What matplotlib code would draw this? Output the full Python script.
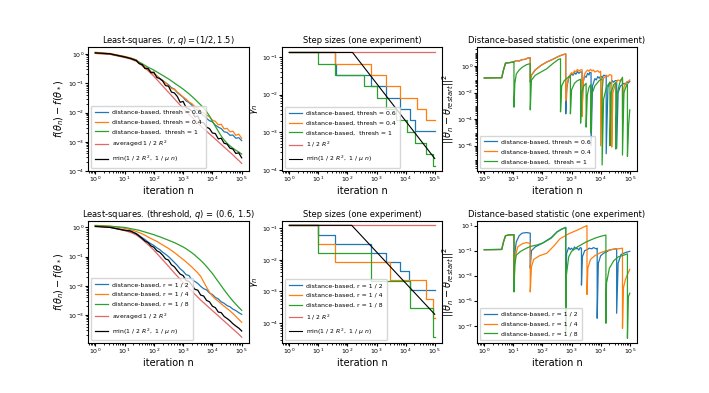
import numpy as np
import matplotlib.pyplot as plt

# ---------------- data ----------------
# left panels: values stored as log10, on a common log10(n) grid
grid_logn = [0.0, 0.5, 1.0, 1.2, 1.4, 1.5, 1.6, 1.7, 1.8, 1.9, 2.0, 2.1, 2.2, 2.3,
             2.4, 2.5, 2.6, 2.7, 2.8, 2.9, 3.0, 3.1, 3.2, 3.3, 3.4, 3.5, 3.6, 3.7,
             3.8, 3.9, 4.0, 4.1, 4.2, 4.3, 4.4, 4.5, 4.6, 4.7, 4.8, 4.9, 5.0]

top_ls_blue = [0.05, 0.0, -0.1, -0.14, -0.2, -0.3, -0.37, -0.46, -0.52, -0.6,
               -0.66, -0.75, -0.83, -0.9, -0.98, -1.05, -1.15, -1.2, -1.32, -1.4,
               -1.48, -1.6, -1.66, -1.75, -1.88, -1.92, -2.03, -2.1, -2.2, -2.28,
               -2.32, -2.43, -2.5, -2.55, -2.66, -2.68, -2.78, -2.77, -2.88, -2.86, -2.96]
top_ls_orange = [0.06, 0.02, -0.08, -0.13, -0.21, -0.28, -0.36, -0.44, -0.53, -0.6,
                 -0.68, -0.74, -0.84, -0.92, -0.98, -1.08, -1.18, -1.2, -1.3, -1.38,
                 -1.47, -1.54, -1.64, -1.7, -1.8, -1.84, -1.96, -2.0, -2.1, -2.14,
                 -2.26, -2.3, -2.42, -2.4, -2.56, -2.54, -2.66, -2.64, -2.78, -2.74, -2.88]
top_ls_green = [0.03, 0.0, -0.09, -0.15, -0.23, -0.28, -0.33, -0.39, -0.45, -0.5,
                -0.55, -0.61, -0.67, -0.73, -0.79, -0.85, -0.92, -0.99, -1.06, -1.13,
                -1.2, -1.28, -1.36, -1.45, -1.54, -1.64, -1.74, -1.85, -1.97, -2.12,
                -2.3, -2.47, -2.64, -2.8, -2.94, -3.05, -3.14, -3.22, -3.29, -3.35, -3.42]
top_ls_red = [0.02, -0.01, -0.12, -0.17, -0.25, -0.32, -0.4, -0.48, -0.57, -0.66,
              -0.76, -0.87, -0.98, -1.09, -1.2, -1.31, -1.42, -1.53, -1.64, -1.75,
              -1.86, -1.96, -2.06, -2.16, -2.26, -2.36, -2.46, -2.55, -2.64, -2.73,
              -2.82, -2.91, -3.0, -3.09, -3.18, -3.27, -3.36, -3.45, -3.55, -3.64, -3.74]
top_ls_black = [0.04, 0.01, -0.1, -0.15, -0.22, -0.33, -0.36, -0.5, -0.49, -0.64,
                -0.62, -0.8, -0.84, -0.92, -1.08, -1.1, -1.3, -1.33, -1.45, -1.65,
                -1.62, -1.83, -1.88, -1.95, -2.15, -2.12, -2.33, -2.35, -2.5, -2.55,
                -2.7, -2.72, -2.9, -2.88, -3.05, -3.08, -3.22, -3.25, -3.4, -3.38, -3.55]

bot_ls_blue = [0.05, 0.01, -0.09, -0.14, -0.21, -0.28, -0.35, -0.42, -0.5, -0.56,
               -0.62, -0.7, -0.76, -0.85, -0.92, -1.0, -1.1, -1.2, -1.3, -1.42,
               -1.5, -1.62, -1.65, -1.8, -1.85, -1.92, -2.02, -2.1, -2.14, -2.25,
               -2.3, -2.4, -2.45, -2.55, -2.6, -2.68, -2.72, -2.8, -2.85, -2.92, -2.98]
bot_ls_orange = [0.07, 0.04, -0.03, -0.08, -0.14, -0.18, -0.22, -0.27, -0.33, -0.38,
                 -0.43, -0.48, -0.54, -0.6, -0.66, -0.72, -0.79, -0.86, -0.94, -1.02,
                 -1.1, -1.18, -1.27, -1.36, -1.46, -1.56, -1.68, -1.86, -2.05, -2.22,
                 -2.35, -2.45, -2.53, -2.62, -2.7, -2.78, -2.86, -2.95, -3.05, -3.15, -3.25]
bot_ls_green = [0.06, 0.04, 0.0, -0.04, -0.08, -0.1, -0.13, -0.16, -0.19, -0.22,
                -0.25, -0.29, -0.32, -0.36, -0.4, -0.44, -0.48, -0.52, -0.57, -0.62,
                -0.67, -0.73, -0.8, -0.87, -0.95, -1.04, -1.13, -1.23, -1.34, -1.46,
                -1.58, -1.72, -1.86, -2.0, -2.14, -2.27, -2.4, -2.52, -2.63, -2.74, -2.84]
bot_ls_red = [0.04, 0.0, -0.11, -0.17, -0.26, -0.33, -0.41, -0.5, -0.59, -0.68,
              -0.78, -0.89, -1.0, -1.11, -1.22, -1.33, -1.45, -1.56, -1.67, -1.78,
              -1.89, -1.99, -2.09, -2.19, -2.29, -2.39, -2.49, -2.58, -2.67, -2.76,
              -2.85, -2.94, -3.03, -3.12, -3.21, -3.3, -3.39, -3.48, -3.57, -3.66, -3.76]
bot_ls_black = [0.03, 0.0, -0.1, -0.12, -0.22, -0.3, -0.38, -0.47, -0.52, -0.63,
                -0.68, -0.8, -0.85, -0.95, -1.08, -1.12, -1.28, -1.35, -1.48, -1.6,
                -1.65, -1.82, -1.85, -1.98, -2.12, -2.15, -2.32, -2.35, -2.5, -2.55,
                -2.7, -2.75, -2.9, -2.92, -3.05, -3.12, -3.2, -3.3, -3.38, -3.45, -3.55]

# middle panels: step sizes (piecewise constant)
top_step_blue_n = [1, 38, 40, 630, 2200, 6600, 14500, 21000, 1e5]
top_step_blue_g = [0.133, 0.066, 0.033, 0.0166, 0.0083, 0.0042, 0.0021, 0.00105, 0.00105]
top_step_orange_n = [1, 38, 660, 2200, 6600, 24000, 52000, 1e5]
top_step_orange_g = [0.133, 0.066, 0.033, 0.0166, 0.0083, 0.0042, 0.0021, 0.0021]
top_step_green_n = [1, 10, 37, 380, 1070, 2200, 4500, 11000, 21000, 52000, 89000, 1e5]
top_step_green_g = [0.133, 0.066, 0.033, 0.0166, 0.0083, 0.0042, 0.0021, 0.00104,
                    0.00052, 0.00026, 0.00013, 0.00013]
top_step_red_n, top_step_red_g = [1, 1e5], [0.133, 0.133]
top_step_black_n, top_step_black_g = [1, 150, 1e5], [0.133, 0.133, 2.0e-4]

bot_step_blue_n = [1, 10, 37, 630, 2200, 6600, 12600, 14500, 1e5]
bot_step_blue_g = [0.13, 0.063, 0.032, 0.0166, 0.0087, 0.0044, 0.0022, 0.0011, 0.0011]
bot_step_orange_n = [1, 10, 37, 3000, 52000, 85000, 1e5]
bot_step_orange_g = [0.13, 0.032, 0.0085, 0.0023, 0.00056, 0.00015, 0.00015]
bot_step_green_n = [1, 10, 630, 14500, 89000, 1e5]
bot_step_green_g = [0.13, 0.0166, 0.0022, 0.00031, 3.6e-5, 3.6e-5]
bot_step_red_n, bot_step_red_g = [1, 1e5], [0.124, 0.124]
bot_step_black_n, bot_step_black_g = [1, 140, 1e5], [0.124, 0.124, 1.9e-4]

# right panels: (log10 n, log10 statistic) pairs
top_dist_blue = [(0, -0.9), (0.6, -0.88), (0.66, -0.3), (0.73, 0.22), (0.85, 0.25), (1.0, 0.3),
                 (1.1, 0.4), (1.2, 0.38), (1.3, 0.48), (1.4, 0.5), (1.5, 0.6), (1.58, 0.62),
                 (1.58, -1.2), (1.62, -0.7), (1.75, -0.3), (1.95, 0.05), (2.15, 0.3), (2.35, 0.5),
                 (2.55, 0.72), (2.7, 0.85), (2.8, 0.9), (2.8, -3.6), (2.84, -1.6), (2.9, -0.9),
                 (3.0, -0.6), (3.05, -0.7), (3.1, -0.5), (3.15, -0.62), (3.2, -0.42), (3.25, -0.55),
                 (3.3, -0.45), (3.36, -0.45), (3.36, -3.3),
                 (3.4, -1.2), (3.45, -0.75), (3.5, -0.85), (3.55, -0.55), (3.6, -0.68), (3.62, -0.5),
                 (3.67, -0.5), (3.67, -6.0),
                 (3.72, -1.5), (3.8, -0.95), (3.85, -1.05), (3.9, -0.8), (3.95, -0.92), (4.0, -0.75),
                 (4.05, -0.88), (4.1, -0.7), (4.19, -0.72),
                 (4.19, -6.6), (4.25, -1.6), (4.32, -1.25), (4.36, -1.35), (4.4, -1.1), (4.45, -1.22),
                 (4.5, -1.1), (4.55, -1.1),
                 (4.55, -6.2), (4.6, -2.0), (4.68, -1.5), (4.75, -1.4), (4.8, -1.3), (4.85, -1.38),
                 (4.9, -1.2), (4.95, -1.28), (5.0, -1.15)]
top_dist_orange = [(0, -0.9), (0.6, -0.88), (0.66, -0.3), (0.73, 0.22), (0.85, 0.25), (1.0, 0.3),
                   (1.1, 0.4), (1.2, 0.38), (1.3, 0.48), (1.4, 0.5), (1.5, 0.6), (1.58, 0.62),
                   (1.58, -1.2), (1.62, -0.7), (1.75, -0.3), (1.95, 0.05), (2.15, 0.3), (2.35, 0.5),
                   (2.55, 0.72), (2.7, 0.85), (2.8, 0.92), (2.8, -2.6), (2.84, -1.5), (2.9, -0.8),
                   (3.0, -0.5), (3.05, -0.6), (3.1, -0.35), (3.15, -0.45), (3.2, -0.25), (3.25, -0.38),
                   (3.3, -0.3), (3.36, -0.28), (3.36, -3.8),
                   (3.4, -1.2), (3.45, -0.6), (3.5, -0.42), (3.55, -0.3), (3.6, -0.4), (3.65, -0.25),
                   (3.7, -0.38), (3.75, -0.3), (3.8, -0.45), (3.9, -0.35), (3.95, -0.48),
                   (4.0, -0.4), (4.0, -6.0), (4.05, -1.8), (4.1, -0.9), (4.15, -0.82), (4.2, -0.7),
                   (4.25, -0.8), (4.3, -0.65), (4.38, -0.7), (4.38, -6.1), (4.42, -2.0), (4.5, -1.4),
                   (4.55, -1.15), (4.6, -1.05), (4.65, -1.12), (4.7, -1.0),
                   (4.75, -1.0), (4.75, -4.0), (4.8, -1.6), (4.85, -1.35), (4.9, -1.2), (4.95, -1.15),
                   (5.0, -1.05)]
top_dist_green = [(0, -0.9), (0.6, -0.88), (0.66, -0.3), (0.73, 0.22), (0.85, 0.25), (1.0, 0.3),
                  (1.02, 0.33), (1.02, -3.1), (1.05, -1.3), (1.1, -0.6), (1.2, -0.3), (1.3, -0.1),
                  (1.45, 0.1), (1.58, 0.18), (1.58, -3.3), (1.62, -1.07), (1.75, -0.7), (1.95, -0.45),
                  (2.15, -0.2), (2.35, 0.17), (2.55, 0.5), (2.62, 0.55), (2.62, -3.45), (2.66, -1.5),
                  (2.75, -1.1), (2.85, -0.9), (2.96, -0.75), (2.96, -3.6), (3.0, -1.8), (3.1, -1.3),
                  (3.2, -1.1), (3.31, -1.0), (3.31, -4.3), (3.35, -2.0), (3.42, -1.5), (3.5, -1.3),
                  (3.5, -4.6), (3.54, -2.2), (3.6, -1.6), (3.66, -1.4), (3.66, -5.0), (3.7, -2.1),
                  (3.8, -1.5), (3.95, -1.1), (4.05, -0.95), (4.05, -7.45), (4.1, -2.5), (4.2, -1.6),
                  (4.32, -1.2), (4.32, -6.0), (4.36, -2.0), (4.45, -1.4), (4.52, -1.25), (4.52, -6.25),
                  (4.56, -2.2), (4.65, -1.3), (4.75, -0.85), (4.75, -6.7), (4.8, -2.0), (4.88, -1.5),
                  (4.92, -1.35), (4.92, -6.8), (4.96, -4.5), (5.0, -3.3)]

bot_dist_blue = [(0, -0.92), (0.6, -0.9), (0.66, -0.3), (0.73, 0.2), (0.85, 0.26), (1.0, 0.28),
                 (1.02, 0.28), (1.02, -2.95), (1.06, -1.0), (1.1, -0.3), (1.2, 0.2), (1.3, 0.4),
                 (1.45, 0.45), (1.58, 0.4), (1.58, -2.4), (1.62, -1.0), (1.75, -0.7), (2.0, -0.4),
                 (2.3, 0.05), (2.5, 0.5), (2.65, 0.72), (2.8, 0.87), (2.8, -3.5), (2.83, -1.2),
                 (2.9, -0.75), (2.95, -0.9), (3.0, -0.8), (3.05, -0.95), (3.1, -0.7), (3.15, -0.85),
                 (3.2, -0.8), (3.25, -0.95), (3.3, -0.75), (3.34, -0.8), (3.34, -3.75), (3.37, -1.5),
                 (3.45, -1.0), (3.55, -0.9), (3.6, -0.8), (3.7, -0.85), (3.75, -0.75), (3.85, -0.85),
                 (3.88, -0.8), (3.88, -6.4), (3.92, -2.0), (4.0, -1.4), (4.1, -1.2), (4.2, -1.1),
                 (4.3, -0.95), (4.4, -0.9), (4.52, -0.85), (4.55, -0.85), (4.55, -6.0), (4.6, -2.0),
                 (4.7, -1.3), (4.85, -1.15), (5.0, -1.05)]
bot_dist_orange = [(0, -0.92), (0.6, -0.9), (0.66, -0.3), (0.73, 0.2), (0.85, 0.26), (1.0, 0.28),
                   (1.02, 0.28), (1.02, -3.75), (1.06, -1.5), (1.15, -0.7), (1.3, -0.45), (1.45, -0.35),
                   (1.55, -0.4), (1.58, -0.4), (1.58, -4.3), (1.62, -2.3), (1.7, -1.7), (1.9, -1.4),
                   (2.15, -1.2), (2.4, -0.6), (2.6, -0.05), (2.9, 0.35), (3.2, 0.65), (3.5, 0.98),
                   (3.53, 1.0), (3.53, -4.5), (3.56, -2.4), (3.65, -1.7), (3.8, -1.4), (4.0, -1.15),
                   (4.2, -1.0), (4.4, -0.9), (4.6, -0.85), (4.75, -0.8), (4.75, -7.2), (4.78, -4.0),
                   (4.85, -3.3), (4.92, -2.9), (5.0, -2.5)]
bot_dist_green = [(0, -0.92), (0.6, -0.9), (0.66, -0.3), (0.73, 0.2), (0.85, 0.26), (1.0, 0.28),
                  (1.02, 0.28), (1.02, -4.3), (1.05, -2.1), (1.1, -1.35), (1.25, -1.05), (1.45, -0.8),
                  (1.6, -0.65), (1.8, -0.55), (2.0, -0.4), (2.3, 0.0), (2.5, 0.5), (2.65, 0.7),
                  (2.8, 0.85), (2.8, -7.5), (2.82, -3.0), (2.9, -1.5), (3.0, -1.05), (3.2, -0.7),
                  (3.5, -0.3), (3.8, 0.0), (4.0, 0.15), (4.18, 0.25), (4.18, -6.8), (4.2, -3.6),
                  (4.3, -2.4), (4.45, -1.8), (4.6, -1.5), (4.8, -1.35), (4.92, -1.25), (4.92, -8.0),
                  (4.95, -4.7), (5.0, -4.4)]

top_labels = ['distance-based, thresh = 0.6', 'distance-based, thresh = 0.4',
              'distance-based,  thresh = 1']
bot_labels = ['distance-based, r = 1 / 2', 'distance-based, r = 1 / 4',
              'distance-based, r = 1 / 8']
colors = ['tab:blue', 'tab:orange', 'tab:green']

FS_TITLE, FS_LABEL, FS_TICK, FS_LEG = 6, 7, 4.5, 4.4
LW = 0.9
LEG = dict(loc='lower left', fontsize=FS_LEG, handlelength=2.1, borderpad=0.6,
           labelspacing=0.75)

fig = plt.figure(figsize=(7.09, 3.93), dpi=100)
lefts = [0.1241, 0.3977, 0.6728]
widths = [0.2271, 0.2257, 0.2257]
rows = [(0.5649, 0.3155), (0.1265, 0.312)]
axes = [[fig.add_axes([l, b, w, h]) for l, w in zip(lefts, widths)] for b, h in rows]
ylabel_x = [-0.135, -0.135, -0.13]


def pw(v):
    return 10 ** np.asarray(v, dtype=float)


def loglog_style(ax):
    ax.set_xscale('log')
    ax.set_yscale('log')
    ax.set_xlim(10 ** -0.25, 10 ** 5.25)
    ax.set_xlabel('iteration n', fontsize=FS_LABEL, labelpad=1)
    ax.tick_params(labelsize=FS_TICK, pad=0.8, length=2)
    ax.tick_params(which='minor', length=1.2)


# ----- left column -----
for ax, series, labels, title, ylim in [
        (axes[0][0], [top_ls_blue, top_ls_orange, top_ls_green, top_ls_red, top_ls_black],
         top_labels, r'Least-squares. $(r, q) = (1/2, 1.5)$', (1.0e-4, 1.74)),
        (axes[1][0], [bot_ls_blue, bot_ls_orange, bot_ls_green, bot_ls_red, bot_ls_black],
         bot_labels, r'Least-squares. (threshold, $q$) = (0.6, 1.5)', (1.07e-4, 1.7))]:
    for y, c, lab in zip(series[:3], colors, labels):
        ax.plot(pw(grid_logn), pw(y), color=c, lw=LW, label=lab)
    ax.plot(pw(grid_logn), pw(series[3]), color='tab:red', lw=LW, alpha=0.7,
            label=r'averaged $1\ /\ 2\ R^2$')
    ax.plot(pw(grid_logn), pw(series[4]), color='black', lw=LW,
            label=r'min$(1\ /\ 2\ R^2,\ 1\ /\ \mu\ n)$')
    loglog_style(ax)
    ax.set_ylim(*ylim)
    ax.set_title(title, fontsize=FS_TITLE, pad=3)
    ax.set_ylabel(r'$f(\theta_n) - f(\theta_*)$', fontsize=FS_LABEL)
    ax.legend(**LEG)

# ----- middle column -----
for ax, steps, labels, ylim in [
        (axes[0][1], [(top_step_blue_n, top_step_blue_g), (top_step_orange_n, top_step_orange_g),
                      (top_step_green_n, top_step_green_g), (top_step_red_n, top_step_red_g),
                      (top_step_black_n, top_step_black_g)], top_labels, (9.3e-5, 0.186)),
        (axes[1][1], [(bot_step_blue_n, bot_step_blue_g), (bot_step_orange_n, bot_step_orange_g),
                      (bot_step_green_n, bot_step_green_g), (bot_step_red_n, bot_step_red_g),
                      (bot_step_black_n, bot_step_black_g)], bot_labels, (2.3e-5, 0.174))]:
    for (n, g), c, lab in zip(steps[:3], colors, labels):
        ax.plot(n, g, color=c, lw=LW, drawstyle='steps-post', label=lab)
    ax.plot(steps[3][0], steps[3][1], color='tab:red', lw=LW, alpha=0.7,
            label=r'$1\ /\ 2\ R^2$')
    ax.plot(steps[4][0], steps[4][1], color='black', lw=0.8,
            label=r'min$(1\ /\ 2\ R^2,\ 1\ /\ \mu\ n)$')
    loglog_style(ax)
    ax.set_ylim(*ylim)
    ax.set_title('Step sizes (one experiment)', fontsize=FS_TITLE, pad=3)
    ax.set_ylabel(r'$\gamma_n$', fontsize=FS_LABEL)
    ax.legend(**LEG)

# ----- right column -----
for ax, curves, labels, ylim, yt in [
        (axes[0][2], [top_dist_blue, top_dist_orange, top_dist_green], top_labels,
         (10 ** -7.9, 10 ** 1.43), [1e0, 1e-2, 1e-4, 1e-6]),
        (axes[1][2], [bot_dist_blue, bot_dist_orange, bot_dist_green], bot_labels,
         (10 ** -8.4, 10 ** 1.4), [1e1, 1e-1, 1e-3, 1e-5, 1e-7])]:
    for pts, c, lab in zip(curves, colors, labels):
        ln, ly = np.array(pts).T
        ax.plot(pw(ln), pw(ly), color=c, lw=LW, label=lab)
    loglog_style(ax)
    ax.set_ylim(*ylim)
    ax.set_yticks(yt)
    ax.set_title('Distance-based statistic (one experiment)', fontsize=FS_TITLE, pad=3)
    ax.set_ylabel(r'$||\theta_n - \theta_{restart}||^2$', fontsize=FS_LABEL)
    ax.legend(**LEG)

for row in axes:
    for ax, lx in zip(row, ylabel_x):
        ax.yaxis.set_label_coords(lx, 0.5)

fig.savefig('out.png', dpi=100)
